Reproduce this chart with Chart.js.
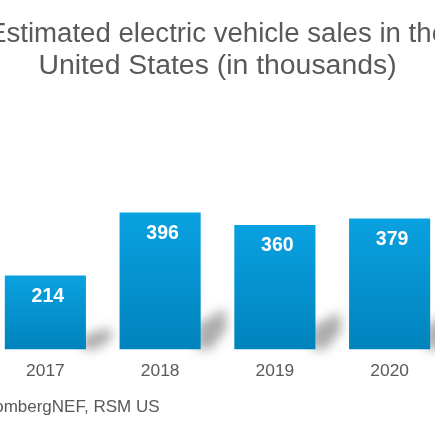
<!DOCTYPE html>
<html>
<head>
<meta charset="utf-8">
<script src="https://cdn.jsdelivr.net/npm/chart.js@4"></script>
<style>
  html, body { margin: 0; padding: 0; background: #fff; overflow: hidden; }
  #wrap { position: absolute; left: -12px; top: 0; width: 459px; height: 435px; }
</style>
</head>
<body>
<div id="wrap"><canvas id="c"></canvas></div>
<script>
const categories = ['2017', '2018', '2019', '2020'];
const sales = [214, 396, 360, 379];
const titleLines = ['Estimated electric vehicle sales in the', 'United States (in thousands)'];
const sourceText = 'Source: BloombergNEF, RSM US';

const TEXT = '#595959';
const FONT = '"Liberation Sans", Arial, sans-serif';

function barGradient(ctx) {
  const chart = ctx.chart;
  if (!chart.chartArea || ctx.type !== 'data') return '#0092d0';
  const y = chart.scales.y;
  const top = y.getPixelForValue(sales[ctx.dataIndex]);
  const bot = y.getPixelForValue(0);
  const g = chart.ctx.createLinearGradient(0, top, 0, bot);
  g.addColorStop(0, '#0aa1e1');
  g.addColorStop(1, '#0083bc');
  return g;
}

const shadowPlugin = {
  id: 'shadows',
  beforeDatasetsDraw(chart) {
    const ctx = chart.ctx;
    const meta = chart.getDatasetMeta(0);
    const off = 3000;
    ctx.save();
    ctx.shadowColor = 'rgba(70,70,70,0.45)';
    ctx.shadowBlur = 11;
    ctx.shadowOffsetX = off;
    ctx.fillStyle = '#000';
    meta.data.forEach((bar) => {
      const right = bar.x + bar.width / 2 - off;
      const bottom = bar.base;
      const h = bottom - bar.y;
      const rise = Math.min(42, h * 0.3);
      ctx.beginPath();
      ctx.moveTo(right - 4, bottom);
      ctx.lineTo(right - 4, bottom - rise * 0.6);
      ctx.lineTo(right + 24, bottom - rise);
      ctx.lineTo(right + 26, bottom - rise * 0.5);
      ctx.lineTo(right + 10, bottom);
      ctx.closePath();
      ctx.fill();
    });
    ctx.restore();
  }
};

const labelPlugin = {
  id: 'barLabels',
  afterDatasetsDraw(chart) {
    const ctx = chart.ctx;
    const meta = chart.getDatasetMeta(0);
    ctx.save();
    ctx.fillStyle = '#ffffff';
    ctx.font = 'bold 19.5px ' + FONT;
    ctx.textAlign = 'center';
    ctx.textBaseline = 'middle';
    meta.data.forEach((bar, i) => {
      ctx.fillText(String(sales[i]), bar.x + 2.5, bar.y + 21);
    });
    ctx.restore();
  },
  afterDraw(chart) {
    const ctx = chart.ctx;
    ctx.save();
    ctx.fillStyle = TEXT;
    ctx.font = '17px ' + FONT;
    ctx.textAlign = 'right';
    ctx.textBaseline = 'middle';
    ctx.fillText(sourceText, chart.chartArea.left + 171.5, 407);
    ctx.restore();
  }
};

new Chart(document.getElementById('c'), {
  type: 'bar',
  data: {
    labels: categories,
    datasets: [{
      data: sales,
      backgroundColor: barGradient,
      borderWidth: 0,
      categoryPercentage: 1,
      barPercentage: 0.707
    }]
  },
  options: {
    responsive: true,
    maintainAspectRatio: false,
    animation: false,
    layout: { padding: { left: 0, right: 0, top: 18, bottom: 42.6 } },
    plugins: {
      legend: { display: false },
      tooltip: { enabled: false },
      title: {
        display: true,
        text: titleLines,
        color: TEXT,
        font: { family: FONT, size: 28.4, weight: 'normal', lineHeight: 1.127 },
        padding: { top: 0, bottom: 94.5 }
      }
    },
    scales: {
      x: {
        grid: { display: false, drawTicks: false },
        border: { display: false },
        ticks: { color: TEXT, padding: 11, font: { family: FONT, size: 17.4 } }
      },
      y: { display: false, min: 0, max: 500 }
    }
  },
  plugins: [shadowPlugin, labelPlugin]
});
</script>
</body>
</html>
